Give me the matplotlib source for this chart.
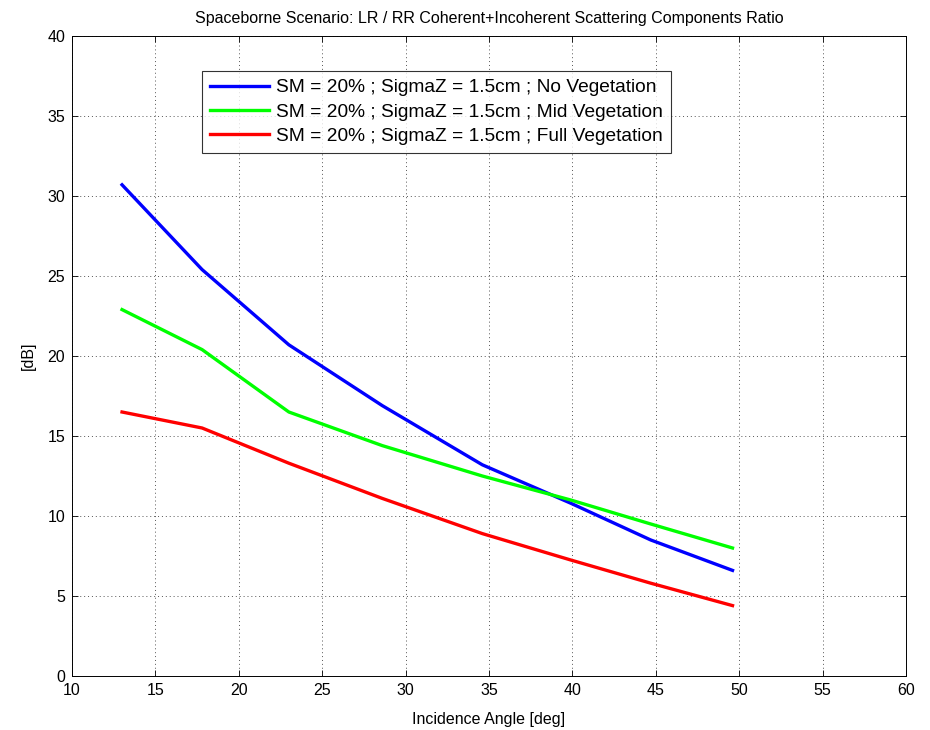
import matplotlib
matplotlib.use("Agg")
import matplotlib.pyplot as plt

angles = [13.0, 17.8, 23.0, 28.6, 34.6, 39.9, 44.7, 49.6]
no_veg = [30.7, 25.4, 20.7, 16.9, 13.2, 10.8, 8.5, 6.6]
mid_veg = [22.9, 20.4, 16.5, 14.4, 12.5, 11.0, 9.5, 8.0]
full_veg = [16.5, 15.5, 13.3, 11.1, 8.9, 7.25, 5.8, 4.4]
labels = ["SM = 20% ; SigmaZ = 1.5cm ; No Vegetation",
          "SM = 20% ; SigmaZ = 1.5cm ; Mid Vegetation",
          "SM = 20% ; SigmaZ = 1.5cm ; Full Vegetation"]
colors = ["#0000ff", "#00ff00", "#ff0000"]
xticks = list(range(10, 61, 5))
yticks = list(range(0, 41, 5))

plt.rcParams['font.family'] = ['Liberation Sans', 'DejaVu Sans']
fig = plt.figure(figsize=(9.3, 7.3), dpi=100)
ax = fig.add_axes([72/930, 54/730, 834/930, 640/730])

for ys, c, lab in zip([no_veg, mid_veg, full_veg], colors, labels):
    ax.plot(angles, ys, color=c, lw=2.4, label=lab)

ax.set_xlim(10, 60)
ax.set_ylim(0, 40)
ax.set_xticks(xticks)
ax.set_yticks(yticks)
ax.tick_params(direction='in', length=4, labelsize=11.5, width=0.6, top=True, right=True, pad=5)
ax.grid(True, linestyle=(0, (1, 3)), color='#555555', lw=0.7)
for s in ax.spines.values():
    s.set_linewidth(0.7)
ax.set_xlabel("Incidence Angle [deg]", fontsize=11.5, labelpad=10)
ax.set_ylabel("[dB]", fontsize=11.5, labelpad=8)
ax.set_title("Spaceborne Scenario: LR / RR Coherent+Incoherent Scattering Components Ratio",
             fontsize=11.5, pad=9)
leg = ax.legend(loc='upper left', bbox_to_anchor=(130/834, 605/640), borderaxespad=0,
                fontsize=13.8, frameon=True, fancybox=False, edgecolor='black',
                handlelength=3.1, borderpad=0.42, labelspacing=0.35, handletextpad=0.35)
leg.get_frame().set_linewidth(0.8)
fig.savefig("out.png", dpi=100, facecolor='white')
